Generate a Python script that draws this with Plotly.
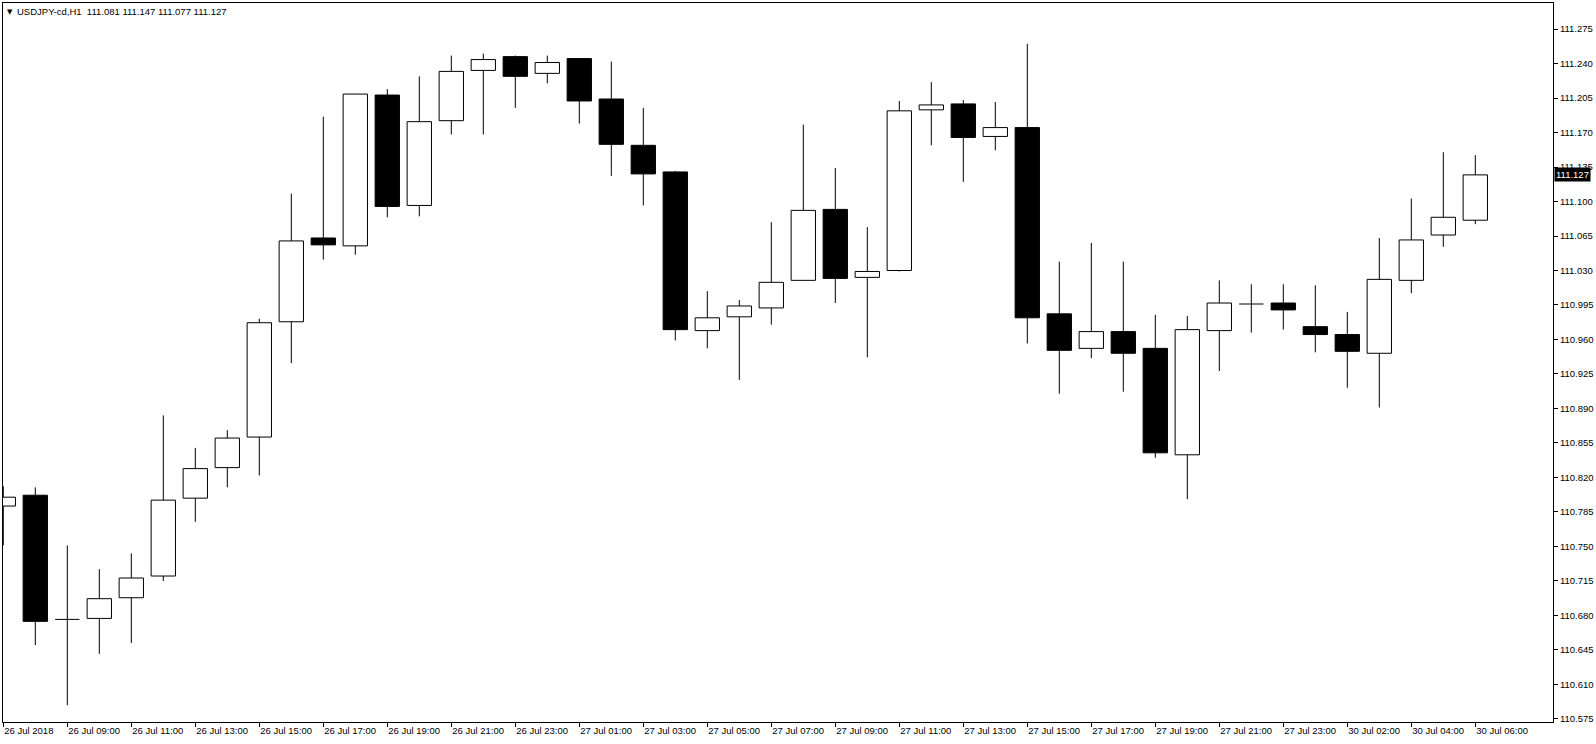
import plotly.graph_objects as go

# ---------------- data (USDJPY-cd, H1) ----------------
bar_index = list(range(47))
open_ = [110.791, 110.802, 110.676, 110.677, 110.698, 110.720, 110.799, 110.830, 110.861, 110.978,
         111.063, 111.055, 111.208, 111.096, 111.182, 111.233, 111.247, 111.230, 111.245, 111.204,
         111.157, 111.130, 110.969, 110.983, 110.992, 111.020, 111.092, 111.023, 111.030, 111.193,
         111.199, 111.166, 111.175, 110.986, 110.951, 110.968, 110.951, 110.843, 110.969, 110.996,
         110.997, 110.973, 110.965, 110.946, 111.020, 111.066, 111.081]
high = [110.811, 110.810, 110.751, 110.727, 110.743, 110.883, 110.850, 110.868, 110.981, 111.108,
        111.186, 111.209, 111.214, 111.227, 111.248, 111.250, 111.248, 111.248, 111.245, 111.242,
        111.195, 111.131, 111.009, 111.000, 111.079, 111.178, 111.134, 111.074, 111.202, 111.221,
        111.203, 111.201, 111.260, 111.039, 111.058, 111.039, 110.985, 110.984, 111.020, 111.016,
        111.016, 111.015, 110.988, 111.063, 111.103, 111.150, 111.147]
low = [110.751, 110.650, 110.589, 110.641, 110.652, 110.715, 110.775, 110.810, 110.822, 110.936,
       111.041, 111.046, 111.084, 111.085, 111.168, 111.168, 111.195, 111.220, 111.179, 111.126,
       111.096, 110.959, 110.951, 110.919, 110.975, 111.020, 110.997, 110.942, 111.029, 111.157,
       111.120, 111.152, 110.956, 110.905, 110.941, 110.907, 110.840, 110.798, 110.928, 110.967,
       110.970, 110.947, 110.911, 110.891, 111.007, 111.054, 111.077]
close = [110.800, 110.674, 110.676, 110.697, 110.718, 110.797, 110.829, 110.860, 110.977, 111.060,
         111.056, 111.209, 111.095, 111.181, 111.232, 111.244, 111.227, 111.241, 111.202, 111.158,
         111.128, 110.970, 110.982, 110.994, 111.018, 111.091, 111.022, 111.029, 111.192, 111.198,
         111.165, 111.175, 110.982, 110.949, 110.968, 110.946, 110.845, 110.970, 110.997, 110.996,
         110.990, 110.965, 110.948, 111.021, 111.061, 111.084, 111.127]

time_tick_bars = list(range(0, 47, 2))
time_tick_labels = ["26 Jul 2018", "26 Jul 09:00", "26 Jul 11:00", "26 Jul 13:00", "26 Jul 15:00",
                    "26 Jul 17:00", "26 Jul 19:00", "26 Jul 21:00", "26 Jul 23:00", "27 Jul 01:00",
                    "27 Jul 03:00", "27 Jul 05:00", "27 Jul 07:00", "27 Jul 09:00", "27 Jul 11:00",
                    "27 Jul 13:00", "27 Jul 15:00", "27 Jul 17:00", "27 Jul 19:00", "27 Jul 21:00",
                    "27 Jul 23:00", "30 Jul 02:00", "30 Jul 04:00", "30 Jul 06:00"]
price_ticks = [110.575, 110.610, 110.645, 110.680, 110.715, 110.750, 110.785, 110.820, 110.855,
               110.890, 110.925, 110.960, 110.995, 111.030, 111.065, 111.100, 111.135, 111.170,
               111.205, 111.240, 111.275]
price_tick_labels = ["%.3f" % p for p in price_ticks]

symbol_title = "USDJPY-cd,H1&nbsp;&nbsp;111.081 111.147 111.077 111.127"
last_price = 111.127

BODY_W = 0.76
FONT = "Liberation Sans"

# ---------------- derived series ----------------
bull_x, bull_base, bull_h = [], [], []
bear_x, bear_base, bear_h = [], [], []
doji_x, doji_y = [], []
wick_x, wick_y = [], []
for i, o, h, l, c in zip(bar_index, open_, high, low, close):
    top, bot = max(o, c), min(o, c)
    if c > o:
        bull_x.append(i); bull_base.append(bot); bull_h.append(top - bot)
    elif c < o:
        bear_x.append(i); bear_base.append(bot); bear_h.append(top - bot)
    else:
        doji_x += [i - BODY_W / 2, i + BODY_W / 2, None]
        doji_y += [o, o, None]
    if h > top:
        wick_x += [i, i, None]; wick_y += [h, top, None]
    if l < bot:
        wick_x += [i, i, None]; wick_y += [bot, l, None]

fig = go.Figure()
fig.add_trace(go.Bar(x=bull_x, y=bull_h, base=bull_base, width=BODY_W,
                     marker=dict(color="white", line=dict(color="black", width=1)),
                     hoverinfo="skip"))
fig.add_trace(go.Bar(x=bear_x, y=bear_h, base=bear_base, width=BODY_W,
                     marker=dict(color="black", line=dict(color="black", width=1)),
                     hoverinfo="skip"))
fig.add_trace(go.Scatter(x=wick_x, y=wick_y, mode="lines",
                         line=dict(color="black", width=1), hoverinfo="skip"))
fig.add_trace(go.Scatter(x=doji_x, y=doji_y, mode="lines",
                         line=dict(color="black", width=1), hoverinfo="skip"))

fig.update_layout(
    width=1596, height=744,
    margin=dict(l=3, r=43, t=3, b=22),
    paper_bgcolor="white", plot_bgcolor="white",
    showlegend=False, barmode="overlay",
    font=dict(family=FONT, size=9.5, color="black"),
    xaxis=dict(range=[-0.0094, 48.428], tickmode="array", tickvals=time_tick_bars,
               ticktext=time_tick_labels, ticks="outside", ticklen=4, tickcolor="black",
               ticklabelposition="outside right",
               showgrid=False, zeroline=False, showline=True, linecolor="black",
               linewidth=1, mirror=True, automargin=False,
               tickfont=dict(family=FONT, size=9.5, color="black")),
    yaxis=dict(range=[110.5719, 111.3014], side="right", tickmode="array",
               tickvals=price_ticks, ticktext=price_tick_labels, ticks="outside",
               ticklen=4, tickcolor="black", showgrid=False, zeroline=False,
               showline=True, linecolor="black", linewidth=1, mirror=True,
               automargin=False, tickfont=dict(family=FONT, size=9.5, color="black")),
)

fig.add_annotation(xref="paper", yref="paper", x=0, y=1, xanchor="left", yanchor="top",
                   xshift=2, yshift=-3, text="▼", showarrow=False,
                   font=dict(family="DejaVu Sans", size=7, color="black"))
fig.add_annotation(xref="paper", yref="paper", x=0, y=1, xanchor="left", yanchor="top",
                   xshift=12, yshift=-1, text=symbol_title, showarrow=False,
                   font=dict(family=FONT, size=9.5, color="black"))
fig.add_annotation(xref="paper", yref="y", x=1, y=last_price, xanchor="left",
                   yanchor="middle", xshift=1, text="%.3f" % last_price, showarrow=False,
                   bgcolor="black", borderpad=1,
                   font=dict(family=FONT, size=9.5, color="white"))

fig.write_html("out.html", config={"displayModeBar": False},
               post_script="document.body.style.margin='0px';")
